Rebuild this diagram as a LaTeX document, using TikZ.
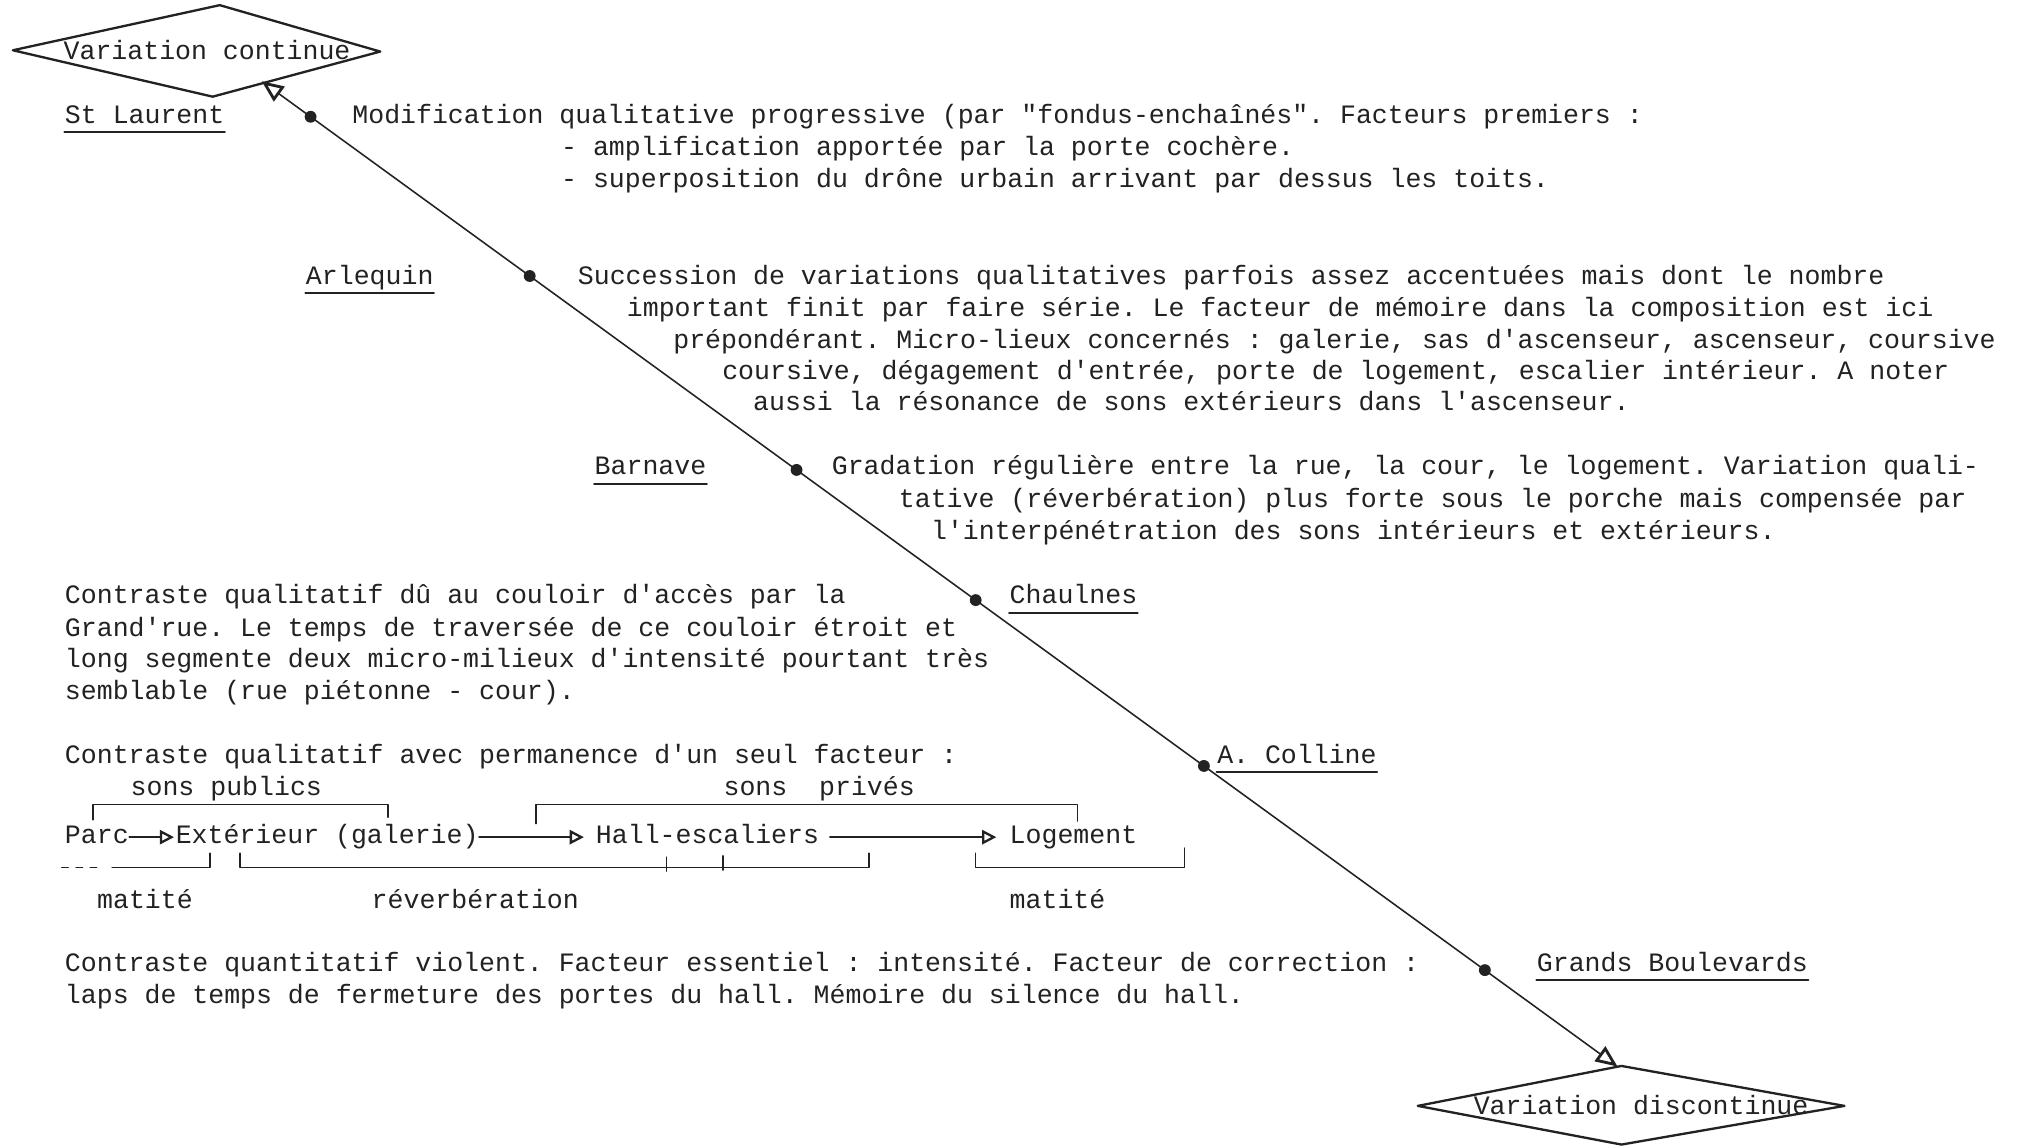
\documentclass[tikz,border=0pt]{standalone}
\usepackage{fontspec}
\setmonofont{Liberation Mono}
\usetikzlibrary{arrows.meta,calc}
\definecolor{ink}{HTML}{222222}
\begin{document}
\begin{tikzpicture}[x=0.5pt,y=-0.5pt, line cap=round, line join=round,
  txt/.style={font=\ttfamily\frenchspacing\fontsize{10.3pt}{12pt}\selectfont, text=ink, inner sep=0pt, anchor=base west, text height=7pt, text depth=2pt},
  lbl/.style={txt, text depth=3.2pt},
  uline/.style={draw=ink, line width=0.8pt},
  dia/.style={draw=ink, line width=0.9pt},
  axis/.style={draw=ink, line width=0.6pt, {Triangle[open,length=8.5pt,width=7pt,line width=1.1pt]}-{Triangle[open,length=8.5pt,width=7pt,line width=1.1pt]}},
  flow/.style={draw=ink, line width=0.6pt, -{Triangle[open,length=5.5pt,width=5.5pt,line width=0.9pt]}},
  brk/.style={draw=ink, line width=0.6pt},
  pt/.style={fill=ink}
]
\fill[white] (0,0) rectangle (1568,889);
\useasboundingbox (0,0) rectangle (1568,889);

% diamonds
\coordinate (d1w) at (10,39); \coordinate (d1n) at (170.5,4);
\coordinate (d1e) at (295,40); \coordinate (d1s) at (165,75);
\draw[dia] (d1w) -- (d1n) -- (d1e) -- (d1s) -- cycle;
\node[txt] (d1) at (49,46.5) {Variation continue};

\coordinate (d2w) at (1100,858); \coordinate (d2n) at (1258,827);
\coordinate (d2e) at (1431,858); \coordinate (d2s) at (1258,888);
\draw[dia] (d2w) -- (d2n) -- (d2e) -- (d2s) -- cycle;
\node[txt] (d2) at (1143,864.5) {Variation discontinue};

% axis
\coordinate (tipA) at (203,63);
\coordinate (tipB) at (1255,827.5);
\draw[axis] (tipA) -- (tipB);
\foreach \n/\t in {p1/0.0361,p2/0.1977,p3/0.3945,p4/0.5266,p5/0.6949,p6/0.9021}{
  \coordinate (\n) at ($(tipA)!\t!(tipB)$);
  \fill[pt] (\n) circle (2.3pt);
}

% labels
\node[lbl] (stl) at (50,95.5) {St Laurent};
\node[lbl] (arl) at (237,220.5) {Arlequin};
\node[lbl] (bar) at (461,368.5) {Barnave};
\node[lbl] (cha) at (783,468.5) {Chaulnes};
\node[lbl] (col) at (944,592.5) {A. Colline};
\node[lbl] (gbd) at (1192,753.5) {Grands Boulevards};
\foreach \n in {stl,arl,bar,cha,col,gbd}{
  \draw[uline] (\n.south west) -- (\n.south east);
}

% St Laurent text
\node[txt] (t1a) at (273,95.5) {Modification qualitative progressive (par "fondus-enchaînés". Facteurs premiers :};
\node[txt] (t1b) at (435,120.5) {- amplification apportée par la porte cochère.};
\node[txt] (t1c) at (435,145.5) {- superposition du drône urbain arrivant par dessus les toits.};

% Arlequin text
\node[txt] (t2a) at (448,220.5) {Succession de variations qualitatives parfois assez accentuées mais dont le nombre};
\node[txt] (t2b) at (486,245.5) {important finit par faire série. Le facteur de mémoire dans la composition est ici};
\node[txt] (t2c) at (522,270.5) {prépondérant. Micro-lieux concernés : galerie, sas d'ascenseur, ascenseur, coursive};
\node[txt] (t2d) at (560,294.5) {coursive, dégagement d'entrée, porte de logement, escalier intérieur. A noter};
\node[txt] (t2e) at (584,318.5) {aussi la résonance de sons extérieurs dans l'ascenseur.};

% Barnave text
\node[txt] (t3a) at (645,368.5) {Gradation régulière entre la rue, la cour, le logement. Variation quali-};
\node[txt] (t3b) at (697,393.5) {tative (réverbération) plus forte sous le porche mais compensée par};
\node[txt] (t3c) at (722,418.5) {l'interpénétration des sons intérieurs et extérieurs.};

% Chaulnes text
\node[txt] (t4a) at (50,468.5) {Contraste qualitatif dû au couloir d'accès par la};
\node[txt] (t4b) at (50,493.5) {Grand'rue. Le temps de traversée de ce couloir étroit et};
\node[txt] (t4c) at (50,517.5) {long segmente deux micro-milieux d'intensité pourtant très};
\node[txt] (t4d) at (50,542.5) {semblable (rue piétonne - cour).};

% A. Colline text
\node[txt] (t5a) at (50,592.5) {Contraste qualitatif avec permanence d'un seul facteur :};
\node[txt] (spub) at (101,617.5) {sons publics};
\node[txt] (spri) at (561,617.5) {sons~~privés};
\node[txt] (parc) at (50,654.5) {Parc};
\node[txt] (ext) at (136,654.5) {Extérieur (galerie)};
\node[txt] (hall) at (462,654.5) {Hall-escaliers};
\node[txt] (loge) at (783,654.5) {Logement};
\draw[flow, shorten >=0.5pt] (parc.east) -- (ext.west);
\draw[flow, shorten >=4.5pt] (ext.east) -- (hall.west);
\draw[flow, shorten <=4pt, shorten >=5pt] (hall.east) -- (loge.west);
\node[txt] (mat1) at (75,704.5) {matité};
\node[txt] (rev) at (288,704.5) {réverbération};
\node[txt] (mat2) at (783,704.5) {matité};

% brackets
\draw[brk] (72,636) -- (72,624) -- (301,624) -- (301,634);
\draw[brk] (416,639) -- (416,624) -- (836,624) -- (836,637);
\draw[brk, dash pattern=on 2.5pt off 3pt] (48,673) -- (80,673);
\draw[brk] (87,673) -- (163,673) -- (163,662);
\draw[brk] (186,662) -- (186,673) -- (674,673) -- (674,662);
\draw[brk] (517,665) -- (517,676);
\draw[brk] (561,664) -- (561,675);
\draw[brk] (757,662) -- (757,673) -- (919,673) -- (919,658);

% Grands Boulevards text
\node[txt] (t6a) at (50,753.5) {Contraste quantitatif violent. Facteur essentiel : intensité. Facteur de correction :};
\node[txt] (t6b) at (50,778.5) {laps de temps de fermeture des portes du hall. Mémoire du silence du hall.};
\end{tikzpicture}
\end{document}
